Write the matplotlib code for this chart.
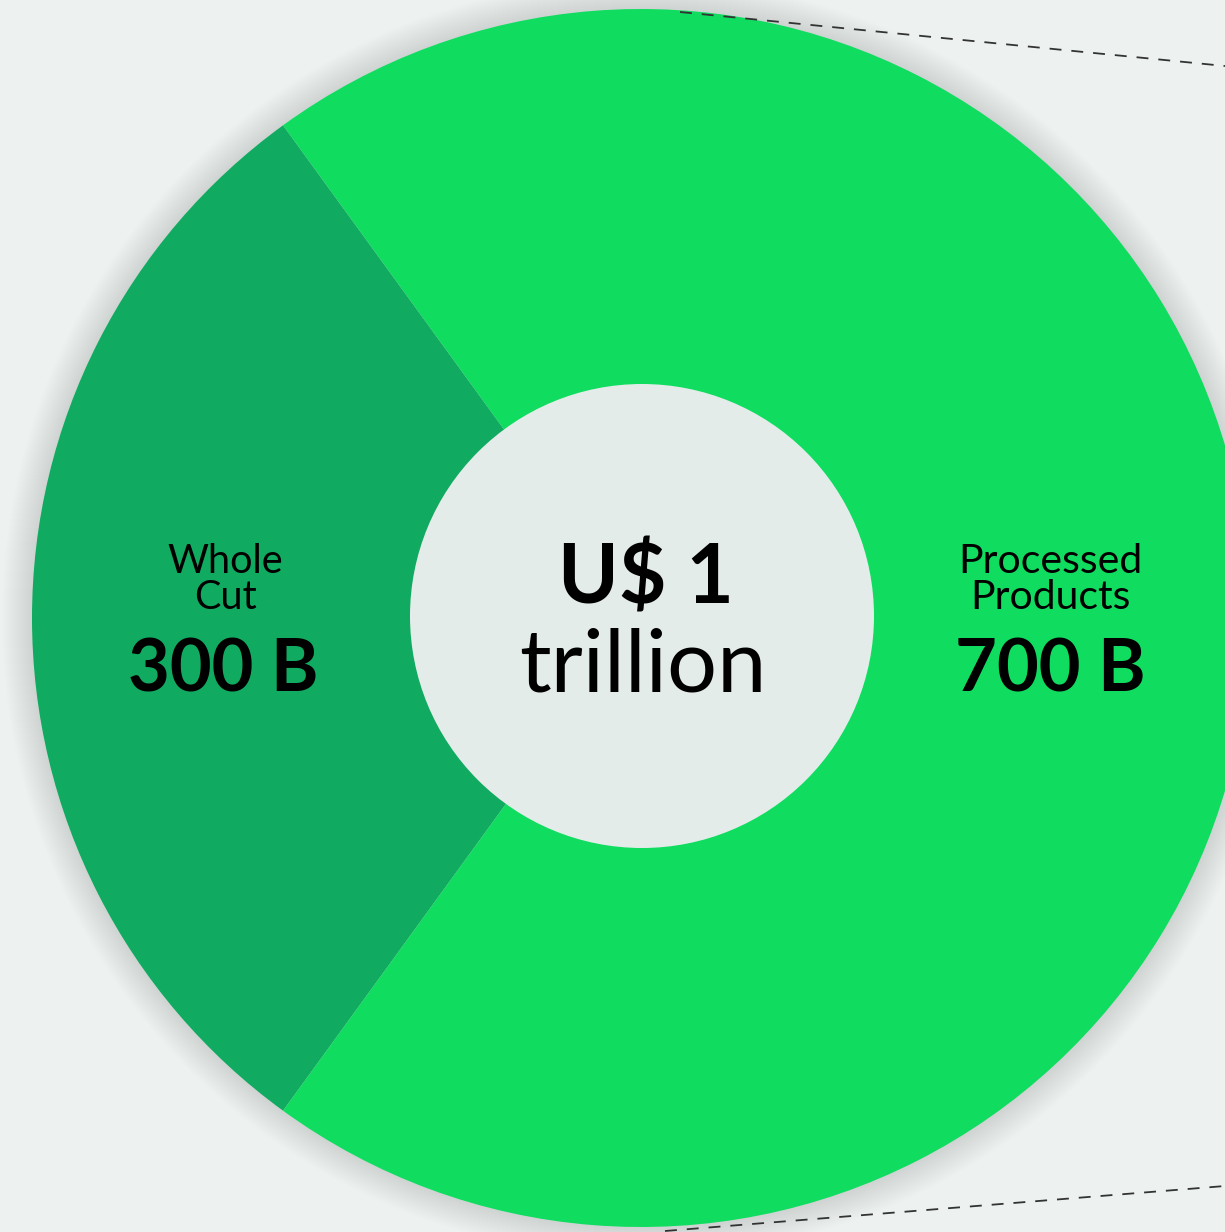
import matplotlib
matplotlib.use("Agg")
import matplotlib.pyplot as plt
from matplotlib.patches import Circle

# ---- data ----
categories = ["Whole\nCut", "Processed\nProducts"]
values = [300, 700]          # US$ billions
value_labels = ["300 B", "700 B"]
total_label = ["U$ 1", "trillion"]

colors = ["#10AA60", "#10DC60"]
bg = "#EDF2F1"
inner_col = "#E4ECEA"

W, H = 1225, 1232
fig = plt.figure(figsize=(W / 100, H / 100), dpi=100, facecolor=bg)
ax = fig.add_axes([0, 0, 1, 1])
ax.set_facecolor(bg)

cx, cy = 641, H - 618
R_out, R_in = 609, 232

# soft shadow around the donut
for i in range(30):
    ax.add_patch(Circle((cx, cy), R_out + 30 - i, color="#8f9a9a",
                        alpha=0.009, lw=0, zorder=1))

ax.pie(values, colors=colors, startangle=126, counterclock=True,
       center=(cx, cy), radius=R_out, frame=True,
       wedgeprops=dict(linewidth=0, zorder=2))
ax.add_patch(Circle((642, H - 616), R_in, color=inner_col, lw=0, zorder=3))

# dashed guide lines
ax.plot([680, 1225], [H - 12, H - 66], ls=(0, (6.6, 5.5)), color="#333333",
        lw=1.3, zorder=2.5)
ax.plot([665, 1225], [H - 1231, H - 1186], ls=(0, (6.6, 5.5)), color="#333333",
        lw=1.3, zorder=2.5)

font = "Lato"
# labels
ax.text(225, H - 573, categories[0].split("\n")[0], ha="center", va="baseline",
        fontsize=28.5, family=font, color="black", zorder=5)
ax.text(225, H - 609, categories[0].split("\n")[1], ha="center", va="baseline",
        fontsize=28.5, family=font, color="black", zorder=5)
ax.text(223, H - 692, value_labels[0], ha="center", va="baseline",
        fontsize=52, family=font, weight="bold", color="black", zorder=5)

ax.text(1050, H - 573, categories[1].split("\n")[0], ha="center", va="baseline",
        fontsize=29.5, family=font, color="black", zorder=5)
ax.text(1050, H - 609, categories[1].split("\n")[1], ha="center", va="baseline",
        fontsize=29.5, family=font, color="black", zorder=5)
ax.text(1050, H - 692, value_labels[1], ha="center", va="baseline",
        fontsize=52, family=font, weight="bold", color="black", zorder=5)

ax.text(646, H - 603, total_label[0], ha="center", va="baseline",
        fontsize=59, family=font, weight="bold", color="black", zorder=5)
ax.text(643, H - 692, total_label[1], ha="center", va="baseline",
        fontsize=63.5, family=font, color="black", zorder=5)

ax.set_xlim(0, W)
ax.set_ylim(0, H)
ax.set_aspect("auto")
ax.axis("off")

fig.savefig("out.png", dpi=100, facecolor=bg)
